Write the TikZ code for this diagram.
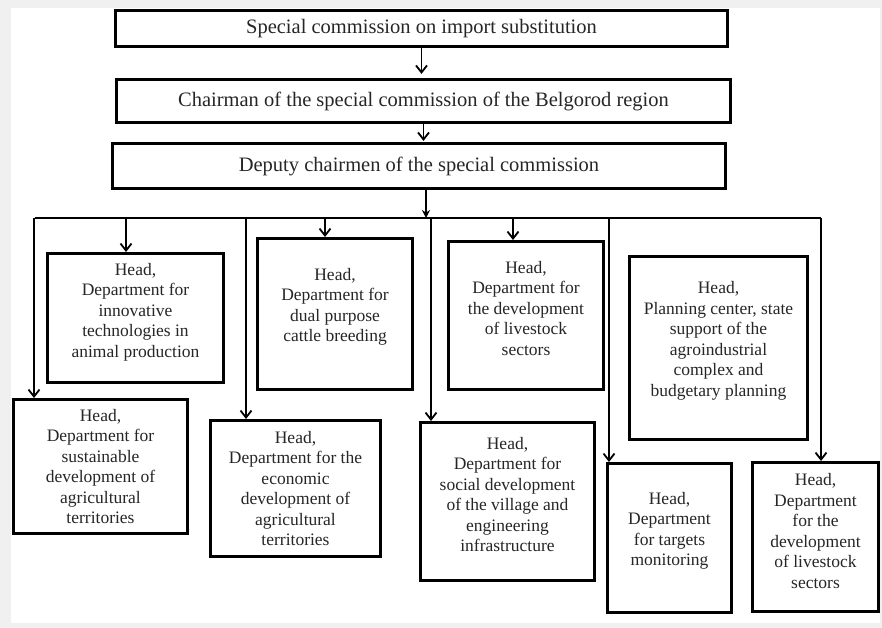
\documentclass[tikz,border=0pt]{standalone}
\usepackage{fontspec}
\setmainfont{Liberation Serif}
\usetikzlibrary{arrows.meta,calc}
\begin{document}
\begin{tikzpicture}[x=1pt,y=-1pt,
  topbox/.style={draw=black, line width=3.2pt, inner sep=0pt, font=\fontsize{20.5}{24}\selectfont, text=black!85},
  headbox/.style={draw=black, line width=3pt, inner sep=0pt},
  lbl/.style={align=center, font=\fontsize{17.5}{20.5}\selectfont, text=black!85, inner sep=0pt},
  conn/.style={line width=1.5pt},
  arr/.style={conn, -{Straight Barb[length=7pt,width=11pt,line width=1.8pt]}},
  farr/.style={conn, -{Stealth[length=8pt,width=8pt]}},
  ]
\useasboundingbox (0,0) rectangle (882,628);
\fill[black!6] (0,0) rectangle (882,628);
\fill[white] (11,8) rectangle (880,623);

% top chain
\node[topbox, minimum width=612pt, minimum height=36pt] (b1) at (421.5,28.5) {Special commission on import substitution};
\node[topbox, minimum width=614pt, minimum height=43pt] (b2) at (423.5,101) {Chairman of the special commission of the Belgorod region};
\node[topbox, minimum width=613pt, minimum height=45pt] (b3) at (419,166) {Deputy chairmen of the special commission};

% department boxes
\node[headbox, minimum width=176pt, minimum height=129pt] (innov) at (135.5,318) {};
\node[lbl] (innovT) at ([yshift=6pt]innov.center) {Head,\\Department for\\innovative\\technologies in\\animal production};

\node[headbox, minimum width=155pt, minimum height=151pt] (dual) at (335,314) {};
\node[lbl] (dualT) at ([yshift=7pt]dual.center) {Head,\\Department for\\dual purpose\\cattle breeding};

\node[headbox, minimum width=155pt, minimum height=148pt] (live1) at (526,315.5) {};
\node[lbl] (live1T) at ([yshift=7pt]live1.center) {Head,\\Department for\\the development\\of livestock\\sectors};

\node[headbox, minimum width=178pt, minimum height=183pt] (plan) at (718.5,348) {};
\node[lbl] (planT) at ([yshift=7pt]plan.center) {Head,\\Planning center, state\\support of the\\agroindustrial\\complex and\\budgetary planning};

\node[headbox, minimum width=174pt, minimum height=134pt] (sust) at (100.5,466.5) {};
\node[lbl] (sustT) at (sust.center) {Head,\\Department for\\sustainable\\development of\\agricultural\\territories};

\node[headbox, minimum width=170pt, minimum height=136pt] (econ) at (295.5,488.5) {};
\node[lbl] (econT) at (econ.center) {Head,\\Department for the\\economic\\development of\\agricultural\\territories};

\node[headbox, minimum width=174pt, minimum height=158pt] (social) at (507.5,501.5) {};
\node[lbl] (socialT) at ([yshift=7pt]social.center) {Head,\\Department for\\social development\\of the village and\\engineering\\infrastructure};

\node[headbox, minimum width=124pt, minimum height=149pt] (targ) at (669.5,538) {};
\node[lbl] (targT) at ([yshift=7pt]targ.center) {Head,\\Department\\for targets\\monitoring};

\node[headbox, minimum width=126pt, minimum height=149pt] (live2) at (815.5,537) {};
\node[lbl] (live2T) at ([yshift=6pt]live2.center) {Head,\\Department\\for the\\development\\of livestock\\sectors};

% connectors in the top chain
\draw[arr, shorten >=4pt] (b1.south) -- (b1.south |- b2.north);
\draw[arr, shorten >=1pt] (b2.south) -- (b2.south |- b3.north);

% bus
\coordinate (busL) at (35,218);
\coordinate (busR) at (821,218);
\coordinate (dep) at (426,218);
\draw[conn] (busL) -- (busR);
\draw[farr] (b3.south -| dep) -- (dep);

% drops
\coordinate (d1) at (34,218);
\coordinate (d2) at (126,218);
\coordinate (d3) at (246,218);
\coordinate (d4) at (325,218);
\coordinate (d5) at (431,218);
\coordinate (d6) at (513,218);
\coordinate (d7) at (609,218);
\coordinate (d8) at (821,218);
\draw[arr] (d1) -- (d1 |- sust.north);
\draw[arr] (d2) -- (d2 |- innov.north);
\draw[arr] (d3) -- (d3 |- econ.north);
\draw[arr] (d4) -- (d4 |- dual.north);
\draw[arr] (d5) -- (d5 |- social.north);
\draw[arr] (d6) -- (d6 |- live1.north);
\draw[arr] (d7) -- (d7 |- targ.north);
\draw[arr] (d8) -- (d8 |- live2.north);
\end{tikzpicture}
\end{document}
